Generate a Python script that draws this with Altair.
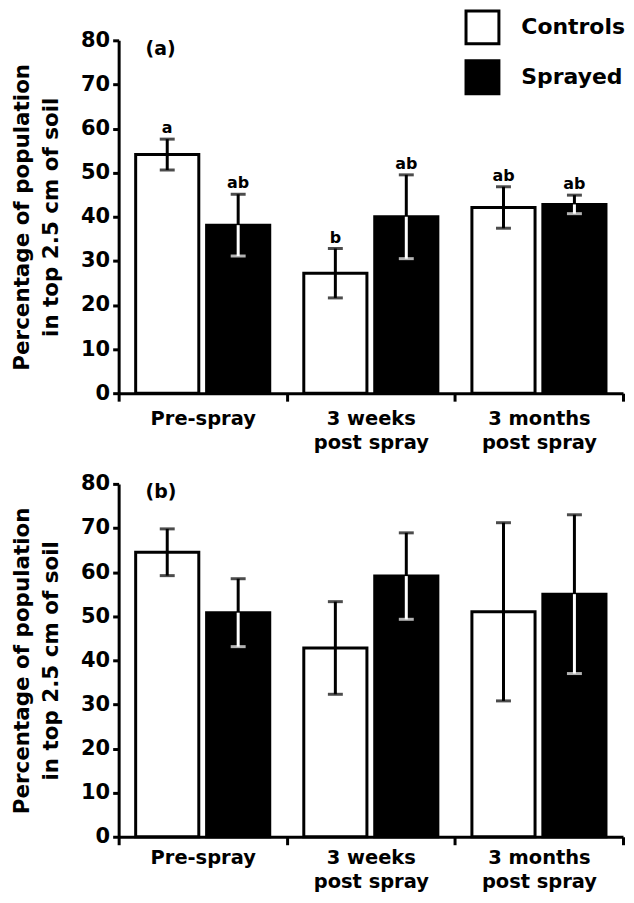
import altair as alt
import pandas as pd

periods = ["Pre-spray", "3 weeks post spray", "3 months post spray"]
groups = ["Controls", "Sprayed"]

# Panel (a)
a_ctrl = [54.1, 27.2, 42.1]
a_ctrl_err = [3.5, 5.6, 4.7]
a_spray = [38.1, 40.0, 42.8]
a_spray_err = [7.0, 9.5, 2.1]
a_ctrl_letters = ["a", "b", "ab"]
a_spray_letters = ["ab", "ab", "ab"]

# Panel (b)
b_ctrl = [64.5, 42.8, 51.0]
b_ctrl_err = [5.3, 10.5, 20.2]
b_spray = [50.8, 59.1, 55.0]
b_spray_err = [7.7, 9.8, 18.0]

y_ticks = [0, 10, 20, 30, 40, 50, 60, 70, 80]

FONT = "DejaVu Sans"


def make_df(ctrl, ctrl_err, spray, spray_err, ctrl_let=None, spray_let=None):
    rows = []
    for i, p in enumerate(periods):
        for g, vals, errs, lets in (("Controls", ctrl, ctrl_err, ctrl_let),
                                    ("Sprayed", spray, spray_err, spray_let)):
            rows.append({
                "period": p,
                "group": g,
                "value": vals[i],
                "lower": vals[i] - errs[i],
                "upper": vals[i] + errs[i],
                "letter": lets[i] if lets else "",
                "lowcol": "black" if g == "Controls" else "white",
            })
    return pd.DataFrame(rows)


def panel(df, label, show_legend, title_off, height, lab_pad, lab_lh):
    x = alt.X("period:N", sort=periods,
              scale=alt.Scale(paddingInner=0, paddingOuter=0),
              axis=alt.Axis(title=None, labelAngle=0, tickBand="extent",
                            labelExpr="split(replace(datum.label, ' post', '|post'), '|')",
                            labelFont=FONT, labelFontSize=19.5, labelFontWeight="bold",
                            labelColor="black", labelLineHeight=lab_lh, labelPadding=lab_pad,
                            tickSize=8, tickWidth=3, tickColor="black",
                            domainWidth=3, domainColor="black"))
    xo = alt.XOffset("group:N", sort=groups,
                     scale=alt.Scale(paddingInner=0.11, paddingOuter=0.24))
    yscale = alt.Scale(domain=[0, 80], nice=False)
    y = alt.Y("value:Q", scale=yscale,
              axis=alt.Axis(values=y_ticks, grid=False,
                            title=["Percentage of population", "in top 2.5 cm of soil"],
                            titleFont=FONT, titleFontSize=21.5, titleFontWeight="bold",
                            titleColor="black", titleLineHeight=29, titlePadding=18,
                            labelFont=FONT, labelFontSize=21, labelFontWeight="bold",
                            labelColor="black", labelPadding=3,
                            tickSize=6, tickWidth=3, tickColor="black",
                            domainWidth=3, domainColor="black"))
    if show_legend:
        leg = alt.Legend(title=None, orient="none", legendX=347, legendY=-31,
                         symbolType="square", symbolSize=1089,
                         symbolStrokeColor="black", symbolStrokeWidth=3,
                         labelFont=FONT, labelFontSize=22, labelFontWeight="bold",
                         labelColor="black", labelOffset=21, rowPadding=4, padding=0)
    else:
        leg = None
    fill = alt.Fill("group:N", sort=groups,
                    scale=alt.Scale(domain=groups, range=["white", "black"]),
                    legend=leg)

    base = alt.Chart(df)
    bars = base.mark_bar(stroke="black", strokeWidth=3).encode(x=x, xOffset=xo, y=y, fill=fill)
    up_stem = base.mark_rule(strokeWidth=3, color="black").encode(
        x=x, xOffset=xo, y=alt.Y("value:Q", scale=yscale), y2="upper:Q")
    low_stem = base.mark_rule(strokeWidth=3).encode(
        x=x, xOffset=xo, y=alt.Y("lower:Q", scale=yscale), y2="value:Q",
        color=alt.Color("lowcol:N", scale=None))
    up_cap = base.mark_tick(size=15, thickness=3, color="black").encode(
        x=x, xOffset=xo, y=alt.Y("upper:Q", scale=yscale))
    low_cap = base.mark_tick(size=15, thickness=3).encode(
        x=x, xOffset=xo, y=alt.Y("lower:Q", scale=yscale),
        color=alt.Color("lowcol:N", scale=None))
    letters = base.mark_text(dy=-6, baseline="alphabetic", font=FONT, fontSize=16,
                             fontWeight="bold", color="black").encode(
        x=x, xOffset=xo, y=alt.Y("upper:Q", scale=yscale), text="letter:N")

    return alt.layer(bars, up_stem, low_stem, up_cap, low_cap, letters).properties(
        width=506, height=height,
        title=alt.TitleParams(label, anchor="start", frame="group", orient="top",
                              offset=title_off, dx=27, font=FONT, fontSize=19,
                              fontWeight="bold", color="black"))


df_a = make_df(a_ctrl, a_ctrl_err, a_spray, a_spray_err, a_ctrl_letters, a_spray_letters)
df_b = make_df(b_ctrl, b_ctrl_err, b_spray, b_spray_err)

chart = alt.vconcat(panel(df_a, "(a)", True, -50, 354, 8, 25),
                    panel(df_b, "(b)", False, -29, 354, 4, 24),
                    spacing=91, bounds="flush").resolve_scale(
    fill="independent").resolve_legend(fill="independent").configure_view(
    stroke=None).properties(padding={"left": 3, "top": 0, "right": 0, "bottom": 0})

chart.save("out.html", embed_options={"renderer": "svg", "actions": False})
